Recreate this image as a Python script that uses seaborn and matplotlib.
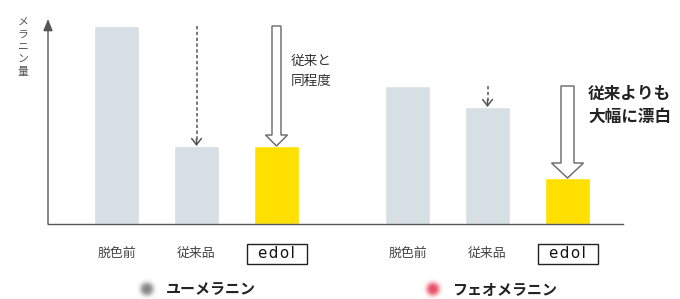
import numpy as np
import pandas as pd
import matplotlib
matplotlib.use("Agg")
import matplotlib.pyplot as plt
import seaborn as sns
from matplotlib.patches import FancyArrow, Rectangle

# ---- data ----
groups = ["ユーメラニン", "フェオメラニン"]
products = ["脱色前", "従来品", "edol"]
eumelanin = [198, 78, 78]
pheomelanin = [138, 117, 46]
y_label = "メラニン量"
note_same = "従来と\n同程度"
note_better = "従来よりも\n大幅に漂白"
group_dot_colors = ["#7f7f7f", "#e8465c"]

sns.set_style("white")
plt.rcParams['font.family'] = ['Noto Sans CJK JP', 'DejaVu Sans']

# ---- layout ----
STEP = 80
GROUP_GAP = 291
X0 = 68.5
rows = []
for g, vals in enumerate([eumelanin, pheomelanin]):
    for i, (p, v) in enumerate(zip(products, vals)):
        rows.append(dict(group=groups[g], product=p, value=v,
                         pos=X0 + g * GROUP_GAP + i * STEP))
df = pd.DataFrame(rows)

W, H = 680, 299
fig = plt.figure(figsize=(W / 100, H / 100), dpi=100)
ax = fig.add_axes([48 / W, 75 / H, 575 / W, 205 / H])
palette = {"脱色前": "#D6DFE4", "従来品": "#D6DFE4", "edol": "#FFE000"}
sns.barplot(data=df, x="pos", y="value", hue="product", palette=palette,
            native_scale=True, dodge=False, width=45 / 80, legend=False,
            ax=ax, saturation=1, errorbar=None)
ax.set_xlim(0, 575)
ax.set_ylim(0, 205)
ax.set_xticks([])
ax.set_yticks([])
ax.set_xlabel("")
ax.set_ylabel("")
for s in ["top", "right", "left"]:
    ax.spines[s].set_visible(False)
ax.spines["bottom"].set_color("#555555")
ax.spines["bottom"].set_linewidth(1.0)

# y axis with arrow
ax.annotate("", xy=(0, 1), xytext=(0, 0), xycoords="axes fraction",
            arrowprops=dict(arrowstyle="-|>,head_length=0.7,head_width=0.28",
                            color="#555555", lw=1.0, shrinkA=0, shrinkB=0),
            annotation_clip=False)
fig.text(23 / W, 1 - 47 / H, "\n".join(y_label), ha="center", va="center",
         fontsize=7.8, linespacing=1.32, color="#555555")

xt = ax.get_xaxis_transform()
# category labels
for _, r in df.iterrows():
    if r["product"] == "edol":
        ax.add_patch(Rectangle((r["pos"] - 30, -40 / 205), 60, 20 / 205,
                               transform=xt, fc="white", ec="#222222",
                               lw=1.0, clip_on=False))
        ax.text(r["pos"], -30 / 205, "e\u200ad\u200ao\u200al", transform=xt,
                ha="center", va="center", fontsize=10.8, color="#111111",
                family=["DejaVu Sans"], fontweight="medium")
    else:
        ax.text(r["pos"], -29 / 205, r["product"], transform=xt,
                ha="center", va="center", fontsize=9.3, color="#444444")

# arrows
for g, vals in enumerate([eumelanin, pheomelanin]):
    base = vals[0]
    sub = df[df["group"] == groups[g]].reset_index(drop=True)
    # dashed arrow over the conventional product
    x1, v1 = sub.loc[1, "pos"], sub.loc[1, "value"]
    ax.plot([x1, x1], [base, v1 + 2], ls=(0, (2.2, 1.6)), color="#555555", lw=1.1)
    ax.annotate("", xy=(x1, v1), xytext=(x1, v1 + 7),
                arrowprops=dict(arrowstyle="->,head_length=0.45,head_width=0.35",
                                color="#555555", lw=1.1, shrinkA=0, shrinkB=0))
    # hollow arrow over edol
    x2, v2 = sub.loc[2, "pos"], sub.loc[2, "value"]
    if g == 0:
        w, hw, hl = 9, 22, 11
    else:
        w, hw, hl = 13, 32, 15
    ax.add_patch(FancyArrow(x2, base, 0, v2 - base, width=w, head_width=hw,
                            head_length=hl, length_includes_head=True,
                            fc="white", ec="#666666", lw=1.0, clip_on=False,
                            zorder=3))

sub0 = df[df["group"] == groups[0]].reset_index(drop=True)
sub1 = df[df["group"] == groups[1]].reset_index(drop=True)
ax.text(sub0.loc[2, "pos"] + 14.5, 153, note_same, ha="left", va="center",
        fontsize=9.8, color="#333333", linespacing=1.5)
ax.text(sub1.loc[2, "pos"] + 20.5, 118.5, note_better, ha="left", va="center",
        fontsize=12, color="#222222", fontweight="bold", linespacing=1.3)

# legend with blurred dots
ov = fig.add_axes([0, 0, 1, 1], zorder=5)
ov.set_xlim(0, W)
ov.set_ylim(H, 0)
ov.axis("off")
yy, xx = np.mgrid[-11:11.01:0.25, -11:11.01:0.25]
rr = np.sqrt(xx ** 2 + yy ** 2)
alpha = np.exp(-(rr / 6.8) ** 3) * 0.95
for cx, name, col in zip([147, 433], groups, group_dot_colors):
    rgba = np.zeros(rr.shape + (4,))
    rgba[..., :3] = matplotlib.colors.to_rgb(col)
    rgba[..., 3] = alpha
    ov.imshow(rgba, extent=[cx - 11, cx + 11, 289 + 11, 289 - 11],
              interpolation="bilinear")
    ov.text(cx + 19, 289, name, ha="left", va="center", fontsize=10.8,
            fontweight="bold", color="#222222")
ov.set_xlim(0, W)
ov.set_ylim(H, 0)

fig.savefig("out.png", dpi=100, facecolor="white")
